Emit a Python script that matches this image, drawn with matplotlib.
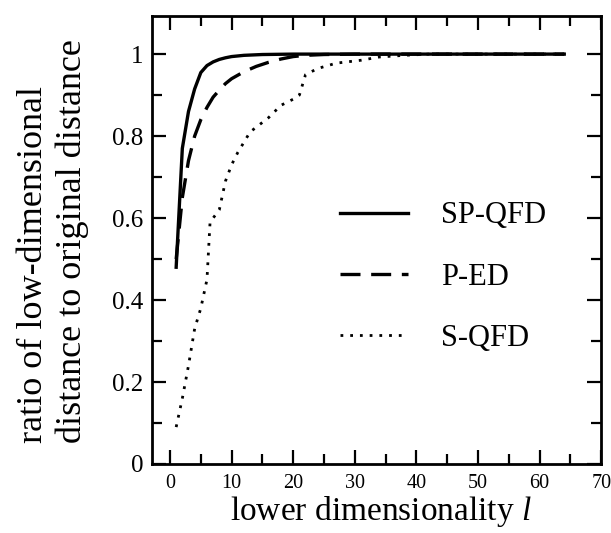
import matplotlib
matplotlib.use("Agg")
import matplotlib.pyplot as plt
from matplotlib.ticker import MultipleLocator

plt.rcParams['font.family'] = ['Liberation Serif', 'DejaVu Serif']
plt.rcParams['mathtext.fontset'] = 'custom'
plt.rcParams['mathtext.rm'] = 'Liberation Serif'
plt.rcParams['mathtext.it'] = 'Liberation Serif:italic'

# lower dimensionality l
l_sp = [1, 2, 3, 4, 5, 6, 7, 8, 9, 10, 12, 15, 20, 30, 40, 50, 64]
sp_qfd = [0.48, 0.77, 0.86, 0.915, 0.955, 0.972, 0.981, 0.987, 0.991, 0.994, 0.997, 0.999, 1.0, 1.0, 1.0, 1.0, 1.0]

l_pe = [1, 2, 3, 4, 5, 6, 7, 8, 9, 10, 12, 14, 16, 18, 20, 22, 25, 30, 40, 64]
p_ed = [0.50, 0.65, 0.74, 0.80, 0.84, 0.87, 0.895, 0.912, 0.928, 0.94, 0.957, 0.970, 0.980, 0.988, 0.994, 0.997, 0.999, 1.0, 1.0, 1.0]

l_s = [1, 2, 3, 4, 5, 6, 6.5, 7, 8, 9, 10, 11, 13, 16, 18, 20, 21, 22, 24, 27, 31, 34, 38, 42, 50, 64]
s_qfd = [0.09, 0.16, 0.24, 0.33, 0.38, 0.45, 0.59, 0.60, 0.62, 0.69, 0.73, 0.76, 0.81, 0.845, 0.875, 0.89, 0.90, 0.95, 0.965, 0.978, 0.985, 0.993, 0.997, 1.0, 1.0, 1.0]

fig = plt.figure(figsize=(6.11, 5.33), dpi=100)
ax = fig.add_axes([0.248, 0.1295, 0.736, 0.8405])

ax.plot(l_sp, sp_qfd, color='black', lw=2.4, ls='-', label='SP-QFD')
ax.plot(l_pe, p_ed, color='black', lw=2.4, ls=(0, (6, 3.2)), label='P-ED')
ax.plot(l_s, s_qfd, color='black', lw=2.0, ls=(0, (1, 2.5)), label='S-QFD')

ax.set_xlim(-3, 70)
ax.set_ylim(0, 1.093)
ax.xaxis.set_major_locator(MultipleLocator(10))
ax.xaxis.set_minor_locator(MultipleLocator(5))
ax.yaxis.set_minor_locator(MultipleLocator(0.1))
ax.set_yticks([0, 0.2, 0.4, 0.6, 0.8, 1.0])
ax.set_yticklabels(['0', '0.2', '0.4', '0.6', '0.8', '1'])
ax.tick_params(which='both', direction='in', top=True, right=True, width=1.6)
ax.tick_params(which='major', length=10)
ax.tick_params(which='minor', length=7)
ax.tick_params(axis='x', labelsize=14.5, pad=7)
ax.tick_params(axis='y', labelsize=18, pad=6)
for s in ax.spines.values():
    s.set_linewidth(2)

ax.set_xlabel('lower dimensionality $\\it{l}$', fontsize=24)
ax.xaxis.set_label_coords(0.51, -0.068)
ax.xaxis.label.set_va('top')
ax.set_ylabel('ratio of low-dimensional\ndistance to original distance', fontsize=26,
              linespacing=1.25, multialignment='left')
ax.yaxis.set_label_coords(-0.138, 0.497)

ax.legend(loc='upper left', bbox_to_anchor=(0.537, 0.645), bbox_transform=fig.transFigure,
          borderaxespad=0, frameon=False, fontsize=22,
          handlelength=2.2, labelspacing=1.05, handletextpad=1.1)

fig.savefig('out.png', dpi=100)
